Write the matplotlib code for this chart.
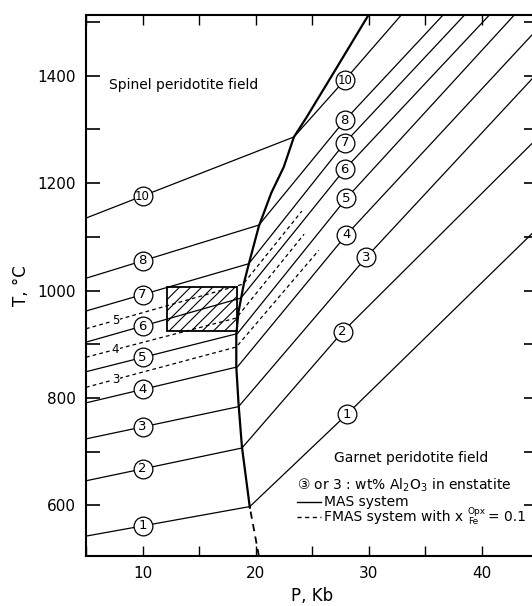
import numpy as np
import matplotlib
matplotlib.use("Agg")
import matplotlib.pyplot as plt
from matplotlib.patches import Rectangle
from matplotlib.ticker import MultipleLocator

plt.rcParams["font.family"] = ["DejaVu Sans"]
plt.rcParams["mathtext.default"] = "regular"
plt.rcParams["hatch.linewidth"] = 0.8

# wt% Al2O3 in enstatite, MAS isopleths (solid)
iso = ["1", "2", "3", "4", "5", "6", "7", "8", "10"]
# spinel field: T at P=5 kb, and where the isopleth meets the phase boundary
sp_T0 = [543, 646, 724, 791, 849, 904, 962, 1023, 1135]
sp_P1 = [19.5, 18.8, 18.5, 18.4, 18.4, 18.7, 19.4, 20.3, 23.4]
sp_T1 = [598, 707, 784, 858, 920, 986, 1050, 1122, 1286]
# garnet field: circled label point, then end point
gt_Pl = [28.1, 27.7, 29.8, 28.05, 28.05, 27.9, 27.9, 27.9, 27.9]
gt_Tl = [770, 923, 1062, 1104, 1172, 1226, 1275, 1317, 1392]
gt_P2 = [45, 45, 45, 45, 42.9, 40.7, 38.5, 36.6, 32.9]
gt_T2 = [1117, 1285, 1406, 1488, 1513, 1513, 1513, 1513, 1513]

# FMAS isopleths with X_Fe = 0.1 (dashed)
fm = ["3", "4", "5"]
fm_T0 = [820, 876, 929]
fm_P1 = [18.3, 18.3, 18.9]
fm_T1 = [895, 949, 1012]
fm_P2 = [25.6, 24.3, 24.1]
fm_T2 = [1075, 1105, 1148]

# spinel / garnet peridotite boundary
bd_P = [19.5, 18.8, 18.5, 18.3, 18.3, 18.5, 19.0, 19.5, 20.3, 21.4, 22.5, 23.4, 24.5, 26.9, 30.0]
bd_T = [596, 709, 789, 858, 918, 961, 1016, 1057, 1120, 1182, 1230, 1286, 1322, 1405, 1513]
bd_ext_P = [20.3, 19.5]
bd_ext_T = [506, 596]

# hatched P-T box
box_P = [12.2, 18.4]
box_T = [925, 1007]

K = "black"
fig = plt.figure(figsize=(5.32, 6.06), dpi=100)
ax = fig.add_axes([86/532, 50/606, 452/532, 541/606])
ax.set_xlim(5, 45)
ax.set_ylim(506, 1513)

for i, lab in enumerate(iso):
    P = [5, sp_P1[i], gt_Pl[i], gt_P2[i]]
    T = [sp_T0[i], sp_T1[i], gt_Tl[i], gt_T2[i]]
    ax.plot(P, T, color=K, lw=0.9, zorder=2)
    t10 = np.interp(10, P[:2], T[:2])
    fs = 8.5 if lab == "10" else 9.5
    for x, y in [(10, t10), (gt_Pl[i], gt_Tl[i])]:
        ax.plot(x, y, "o", ms=13.5, mfc="white", mec=K, mew=0.9, zorder=4)
        ax.text(x, y, lab, ha="center", va="center", fontsize=fs, zorder=5)

for i, lab in enumerate(fm):
    P = [5, fm_P1[i], fm_P2[i]]
    T = [fm_T0[i], fm_T1[i], fm_T2[i]]
    ax.plot(P, T, color=K, lw=0.9, ls=(0, (3, 2.5)), zorder=2)
    t = np.interp(7.6, P[:2], T[:2])
    ax.text(7.6, t, lab, ha="center", va="center", fontsize=8.5, zorder=5,
            bbox=dict(fc="white", ec="none", pad=0.6))

ax.plot(bd_P, bd_T, color=K, lw=1.6, zorder=3)
ax.plot(bd_ext_P, bd_ext_T, color=K, lw=1.3, ls=(0, (4, 3)), zorder=3)

ax.add_patch(Rectangle((box_P[0], box_T[0]), box_P[1] - box_P[0], box_T[1] - box_T[0],
                       fill=False, hatch="///", lw=1.3, ec=K, zorder=3))

ax.text(7.0, 1383, "Spinel peridotite field", fontsize=10, va="center")
ax.text(33.8, 689, "Garnet peridotite field", fontsize=10, ha="center", va="center")
ax.text(23.7, 638, "③ or 3 : wt% Al$_2$O$_3$ in enstatite", fontsize=10, va="center")
ax.plot([23.7, 25.8], [607, 607], color=K, lw=1)
ax.text(26.1, 607, "MAS system", fontsize=10, va="center")
ax.plot([23.7, 25.8], [579, 579], color=K, lw=1, ls=(0, (3, 2.5)))
t1 = ax.text(26.1, 579, "FMAS system with x", fontsize=10, va="center")
a1 = ax.annotate("Opx", xy=(1, 0.5), xycoords=t1, xytext=(3, 0.5),
                 textcoords="offset points", fontsize=6.5, va="bottom")
ax.annotate("Fe", xy=(1, 0.5), xycoords=t1, xytext=(3, -0.5),
            textcoords="offset points", fontsize=6.5, va="top")
ax.annotate("= 0.1", xy=(1, 0.5), xycoords=(a1, t1), xytext=(1.5, 0),
            textcoords="offset points", fontsize=10, va="center")

ax.xaxis.set_major_locator(MultipleLocator(10))
ax.xaxis.set_minor_locator(MultipleLocator(5))
ax.yaxis.set_major_locator(MultipleLocator(200))
ax.yaxis.set_minor_locator(MultipleLocator(100))
ax.tick_params(which="both", direction="in", top=True, right=True, labelsize=11, pad=7)
ax.tick_params(axis="x", which="both", length=7, width=1)
ax.tick_params(axis="y", which="both", length=10, width=1.2)
for s in ["left", "bottom", "top"]:
    ax.spines[s].set_linewidth(1.5)
ax.spines["right"].set_visible(False)

ax.set_xlabel("P, Kb", fontsize=12)
ax.set_ylabel("T, °C", fontsize=12)
ax.xaxis.set_label_coords(0.5, -0.058)
ax.yaxis.set_label_coords(-0.125, 0.5)

fig.savefig("out.png", dpi=100)
